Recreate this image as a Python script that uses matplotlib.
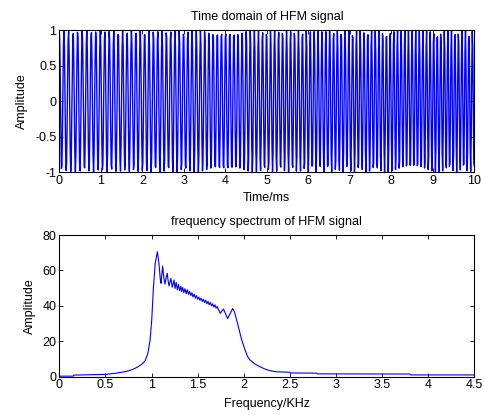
import numpy as np
import matplotlib
matplotlib.use("Agg")
import matplotlib.pyplot as plt

plt.rcParams['font.family'] = ['Liberation Sans', 'DejaVu Sans']

# HFM pulse parameters (time in ms, frequency in kHz as drawn)
pulse_len = 10.0
f_start = 9.0
f_end = 12.0
fs = 80.0  # samples per ms

# spectrum
spec_f = [0.0, 0.15, 0.155, 0.5, 0.6, 0.7, 0.75, 0.8, 0.85, 0.9, 0.93, 0.96, 0.984,
          1.002, 1.02, 1.04, 1.063, 1.08, 1.095, 1.103, 1.112, 1.12, 1.133, 1.146,
          1.158, 1.17, 1.18, 1.19, 1.2, 1.21, 1.225, 1.244, 1.255, 1.2675, 1.28,
          1.2925, 1.305, 1.3175, 1.325, 1.3375, 1.35, 1.3625, 1.375, 1.3875, 1.4,
          1.4125, 1.425, 1.4375, 1.45, 1.4625, 1.475, 1.4875, 1.5, 1.5125, 1.525,
          1.5375, 1.55, 1.5625, 1.575, 1.5875, 1.6, 1.6125, 1.625, 1.6375, 1.65,
          1.6625, 1.675, 1.6875, 1.7, 1.7125, 1.725, 1.745, 1.78, 1.825, 1.88, 1.9,
          1.92, 1.945, 1.978, 2.014, 2.04, 2.068, 2.12, 2.177, 2.23, 2.285, 2.35,
          2.5, 2.51, 2.79, 2.8, 3.8, 3.81, 4.5]
spec_a = [0.3, 0.3, 0.9, 1.3, 1.9, 2.7, 3.3, 4.2, 5.5, 7.3, 9.0, 13.0, 20.7,
          32.0, 50.0, 64.0, 70.6, 64.0, 55.0, 52.7, 58.0, 62.5, 56.0, 52.3,
          56.0, 58.4, 54.0, 51.2, 53.5, 55.5, 50.5, 54.6, 49.8, 53.2, 49.0,
          52.0, 48.6, 51.0, 48.1, 50.4, 47.5, 49.7, 46.9, 49.1, 46.5,
          48.2, 45.8, 47.4, 45.0, 46.6, 44.3, 45.8, 43.7, 45.0, 43.1,
          44.4, 42.5, 43.7, 41.8, 43.1, 41.2, 42.5, 40.6, 41.9, 40.0,
          41.2, 39.3, 40.6, 38.7, 39.6, 38.0, 35.8, 38.2, 32.8, 38.5, 36.5,
          32.5, 27.5, 20.7, 15.1, 11.5, 9.4, 7.2, 5.6, 4.3, 3.4, 2.8,
          2.5, 2.1, 2.0, 1.6, 1.5, 1.0, 1.0]

t = np.arange(0, pulse_len + 1 / fs, 1 / fs)
k = (f_end - f_start) / (f_end * pulse_len)
phase = -2 * np.pi * f_start / k * np.log(1 - k * t)
sig = np.cos(phase)

fig = plt.figure(figsize=(4.85, 4.15), dpi=100)
ax1 = fig.add_axes([0.1223, 0.5855, 0.8557, 0.3422])
ax2 = fig.add_axes([0.1223, 0.0923, 0.8557, 0.3414])

ax1.plot(t, sig, color='blue', lw=1.0)
ax1.set_xlim(0, 10)
ax1.set_ylim(-1, 1)
ax1.set_xticks(np.arange(0, 11, 1))
ax1.set_yticks([-1, -0.5, 0, 0.5, 1])
ax1.set_yticklabels(['-1', '-0.5', '0', '0.5', '1'])
ax1.set_title('Time domain of HFM signal', fontsize=9, pad=7)
ax1.set_xlabel('Time/ms', fontsize=9, labelpad=4)
ax1.set_ylabel('Amplitude', fontsize=9, labelpad=5)

ax2.plot(spec_f, spec_a, color='blue', lw=0.8)
ax2.set_xlim(0, 4.5)
ax2.set_ylim(0, 80)
ax2.set_xticks(np.arange(0, 4.51, 0.5))
ax2.set_xticklabels(['0', '0.5', '1', '1.5', '2', '2.5', '3', '3.5', '4', '4.5'])
ax2.set_yticks([0, 20, 40, 60, 80])
ax2.set_title('frequency spectrum of HFM signal', fontsize=9, pad=7)
ax2.set_xlabel('Frequency/KHz', fontsize=9, labelpad=5)
ax2.set_ylabel('Amplitude', fontsize=9, labelpad=5)

for ax in (ax1, ax2):
    ax.tick_params(direction='in', top=True, right=True, length=3, width=0.6,
                   labelsize=9, pad=2)
    for s in ax.spines.values():
        s.set_linewidth(0.8)

fig.savefig('out.png', dpi=100)
